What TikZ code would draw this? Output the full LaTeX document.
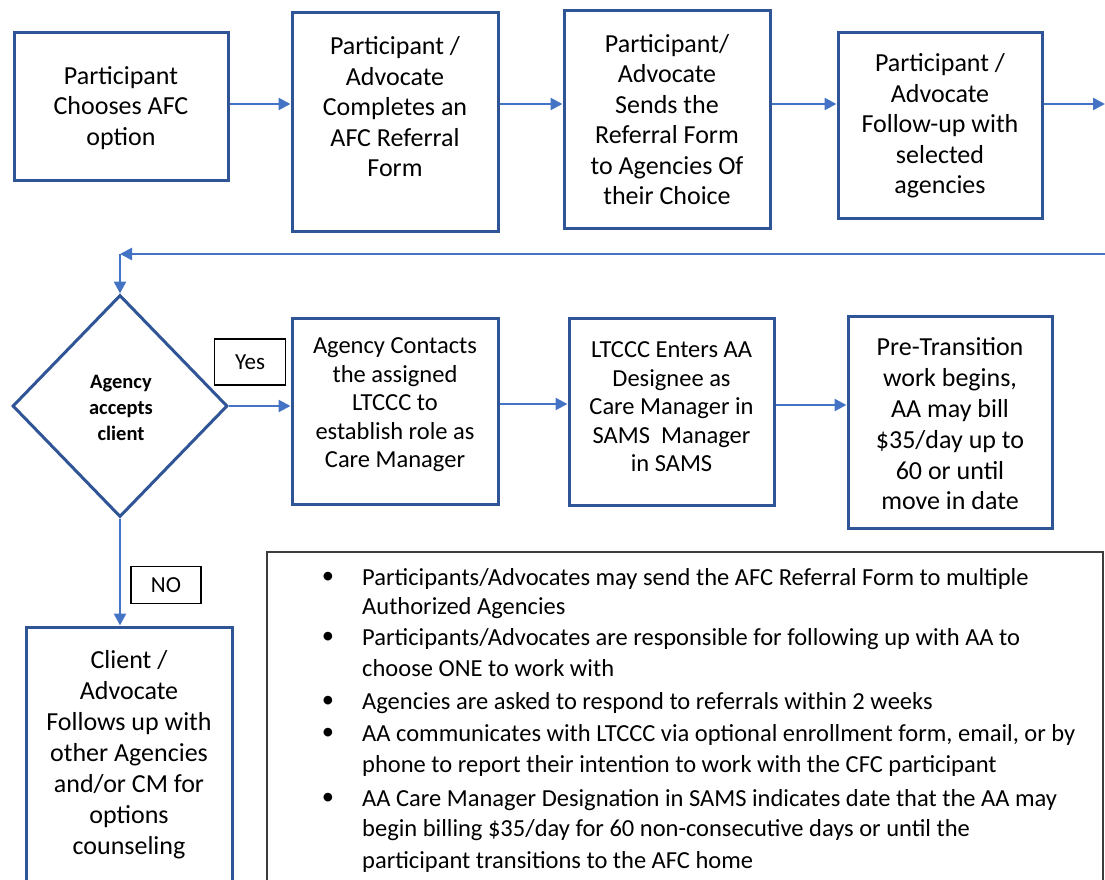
\documentclass[tikz,border=0pt]{standalone}
\usepackage{fontspec}
\setmainfont{Carlito}
\usetikzlibrary{shapes.geometric,arrows.meta}
\definecolor{boxblue}{RGB}{47,85,151}
\definecolor{arrblue}{RGB}{68,114,196}
\definecolor{notegray}{RGB}{60,60,60}
\begin{document}
\begin{tikzpicture}[x=1pt,y=-1pt,
  stepbox/.style={draw=boxblue, line width=3pt, inner sep=0pt, fill=white},
  txt/.style={align=center, inner sep=0pt, text=black},
  big/.style={font=\fontsize{26}{30.5}\selectfont},
  mid/.style={font=\fontsize{24.5}{28.5}\selectfont},
  arr/.style={draw=arrblue, line width=2.5pt, -{Triangle[length=12pt,width=12pt]}},
  tag/.style={draw=black, line width=1.5pt, inner sep=0pt, font=\fontsize{23}{24}\selectfont},
  bul/.style={inner sep=0pt, anchor=base west, font=\fontsize{24.5}{30}\selectfont},
  dot/.style={inner sep=0pt, font=\fontsize{24.5}{30}\selectfont}
]
\useasboundingbox (0,0) rectangle (1105,880);
\clip (0,0) rectangle (1105,880);
\fill[white] (0,0) rectangle (1105,880);

% top row of steps
\node[stepbox, minimum width=214pt, minimum height=147pt] (b1) at (121,106.5) {};
\node[stepbox, minimum width=206pt, minimum height=218pt] (b2) at (395,122) {};
\node[stepbox, minimum width=206pt, minimum height=217pt] (b3) at (667,119.5) {};
\node[stepbox, minimum width=204pt, minimum height=185pt] (b4) at (940,125.5) {};
\node[txt, big] (t1) at (121,108) {Participant\\Chooses AFC\\option};
\node[txt, big] (t2) at (395,107) {Participant /\\Advocate\\Completes an\\AFC Referral\\Form};
\node[txt, big] (t3) at (667,119.5) {Participant/\\Advocate\\Sends the\\Referral Form\\to Agencies Of\\their Choice};
\node[txt, big] (t4) at (940,126) {Participant /\\Advocate\\Follow-up with\\selected\\agencies};

% decision
\node[draw=boxblue, line width=3pt, shape=diamond, inner sep=0pt,
      minimum width=215pt, minimum height=222pt] (dia) at (120,406) {};
\node[txt, font=\bfseries\fontsize{20.5}{26}\selectfont] (dt) at (121,408) {Agency\\accepts\\client};

% second row of steps
\node[stepbox, minimum width=206pt, minimum height=186pt] (b5) at (395,411) {};
\node[stepbox, minimum width=205pt, minimum height=187pt] (b6) at (671.5,411.5) {};
\node[stepbox, minimum width=204pt, minimum height=212pt] (b7) at (950,422) {};
\node[txt, mid] (t5) at (395,405) {Agency Contacts\\the assigned\\LTCCC to\\establish role as\\Care Manager};
\node[txt, mid] (t6) at (671.5,407) {LTCCC Enters AA\\Designee as\\Care Manager in\\SAMS\ \ Manager\\in SAMS};
\node[txt, font=\fontsize{26}{30.8}\selectfont] (t7) at (950,424) {Pre-Transition\\work begins,\\AA may bill\\\$35/day up to\\60 or until\\move in date};

% the "no" branch
\node[stepbox, minimum width=206pt, minimum height=273pt] (b8) at (129,763.5) {};
\node[txt, font=\fontsize{26}{31}\selectfont] (t8) at (129,755) {Client /\\Advocate\\Follows up with\\other Agencies\\and/or CM for\\options\\counseling};

% branch labels
\node[tag, minimum width=71pt, minimum height=46pt] (yes) at (250,362) {Yes};
\node[tag, minimum width=70pt, minimum height=37pt] (no) at (166,585) {NO};

% connectors
\coordinate (out) at (1105,104);
\coordinate (in) at (1105,254);
\coordinate (turn) at (120,254);
\draw[arr] (b1.east |- 0,104) -- (b2.west |- 0,104);
\draw[arr] (b2.east |- 0,104) -- (b3.west |- 0,104);
\draw[arr] (b3.east |- 0,104) -- (b4.west |- 0,104);
\draw[arr] (b4.east |- 0,104) -- (out);
\draw[arr] (in) -- (turn);
\draw[arr] (turn) -- (dia.north);
\draw[arr] (dia.east) -- (dia.east -| b5.west);
\draw[arr] (b5.east |- 0,404) -- (b6.west |- 0,404);
\draw[arr] (b6.east |- 0,405) -- (b7.west |- 0,405);
\draw[arr] (dia.south) -- (dia.south |- b8.north);

% notes
\node[draw=notegray, line width=2pt, inner sep=0pt, minimum width=836pt, minimum height=350pt] (note) at (1103-418,552+175) {};
\foreach \i/\y in {1/585, 2/645, 3/709, 4/741, 5/806} {
  \node[dot] (d\i) at (328,\y-7) {\textbullet};
}
\node[bul] (n1) at (362,585) {Participants/Advocates may send the AFC Referral Form to multiple};
\node[bul] (n2) at (362,614) {Authorized Agencies};
\node[bul] (n3) at (362,645) {Participants/Advocates are responsible for following up with AA to};
\node[bul] (n4) at (362,676) {choose ONE to work with};
\node[bul] (n5) at (362,709) {Agencies are asked to respond to referrals within 2 weeks};
\node[bul] (n6) at (362,741) {AA communicates with LTCCC via optional enrollment form, email, or by};
\node[bul] (n7) at (362,772) {phone to report their intention to work with the CFC participant};
\node[bul] (n8) at (362,806) {AA Care Manager Designation in SAMS indicates date that the AA may};
\node[bul] (n9) at (362,836) {begin billing \$35/day for 60 non-consecutive days or until the};
\node[bul] (n10) at (362,868) {participant transitions to the AFC home};
\end{tikzpicture}
\end{document}
